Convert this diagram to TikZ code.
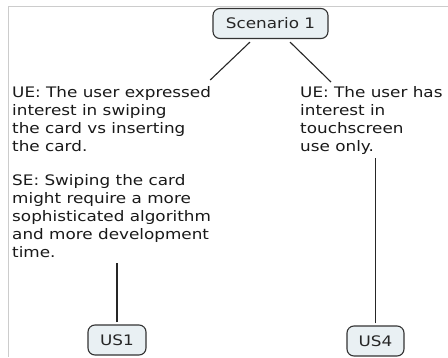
\documentclass[tikz,border=0pt]{standalone}
\usepackage{fontspec}
\setmainfont{DejaVu Sans}[FakeStretch=1.16]
\usetikzlibrary{positioning, calc}
\definecolor{cmapfill}{HTML}{E9F0F3}
\tikzstyle{Link} = [
%plain connector, no tip:
line width=1.1pt, draw=black!85
]

\begin{document}
\begin{tikzpicture}[x=1pt, y=-1pt,
  concept/.style = {rectangle, rounded corners=7pt, draw=black!80, line width=1.1pt, fill=cmapfill, text=black!85, minimum height=30pt, inner sep=0pt, font=\fontsize{14.5}{18}\selectfont},
  note/.style = {inner sep=0pt, align=left, anchor=north west, text=black!90, font=\fontsize{14.5}{18}\selectfont},
  frame/.style = {line width=1.5pt, draw=black!20},
]
\useasboundingbox (0,0) rectangle (448,357);
\draw[frame] (448,6.5) -- (8.5,6.5) -- (8.5,357);

\node[concept, minimum width=115pt](sc) at (270.5,23.5){Scenario 1};
\node[note](ue1) at (12,86){UE: The user expressed\\ interest in swiping\\ the card vs inserting\\ the card.\\[16pt] SE: Swiping the card\\ might require a more\\ sophisticated algorithm\\ and more development\\ time.};
\node[note](ue2) at (300,86){UE: The user has\\ interest in\\ touchscreen\\ use only.};
\node[concept, minimum width=58pt](us1) at (117,340){US1};
\node[concept, minimum width=57pt](us4) at (375.5,341){US4};

\draw[Link]([xshift=-20.5pt, yshift=-3pt]sc.south)--([xshift=-1pt, yshift=6pt]ue1.north east);
\draw[Link]([xshift=19.5pt, yshift=-3pt]sc.south)--([xshift=31pt, yshift=4pt]ue2.north west);
\draw[Link, shorten <=2pt, shorten >=5pt](us1.north)--(us1.north |- ue1.south);
\draw[Link, shorten <=2pt, shorten >=3.5pt](us4.north)--(us4.north |- ue2.south);
\end{tikzpicture}
\end{document}
